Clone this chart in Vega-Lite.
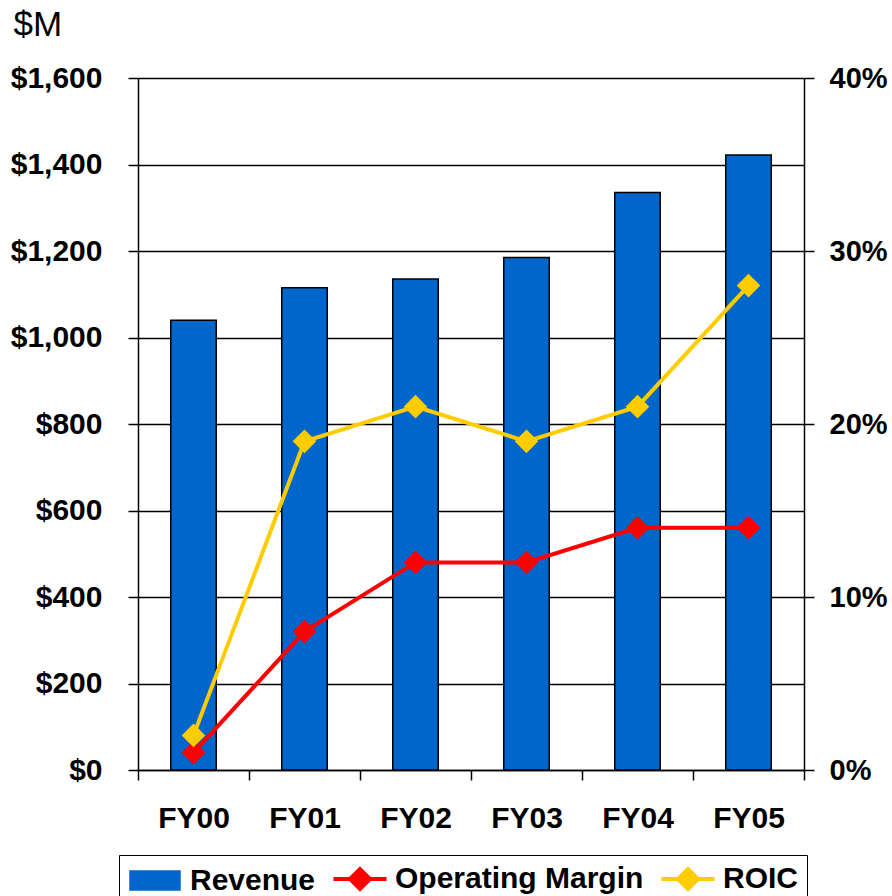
{
  "$schema": "https://vega.github.io/schema/vega-lite/v6.json",
  "autosize": "none",
  "width": 666,
  "height": 692,
  "padding": {"left": 138, "top": 78, "right": 88, "bottom": 126},
  "background": "white",
  "config": {
    "view": {"stroke": null},
    "font": "Liberation Sans",
    "axis": {
      "labelFont": "Liberation Sans",
      "labelFontWeight": "bold",
      "labelFontSize": 30,
      "labelColor": "black",
      "labelLimit": 0,
      "domainColor": "black",
      "domainWidth": 1.5,
      "tickColor": "black",
      "tickWidth": 1.5,
      "tickSize": 10
    }
  },
  "data": {
    "values": [
      {"year": "FY00", "revenue": 1040, "opm": 1, "roic": 2},
      {"year": "FY01", "revenue": 1115, "opm": 8, "roic": 19},
      {"year": "FY02", "revenue": 1135, "opm": 12, "roic": 21},
      {"year": "FY03", "revenue": 1185, "opm": 12, "roic": 19},
      {"year": "FY04", "revenue": 1335, "opm": 14, "roic": 21},
      {"year": "FY05", "revenue": 1422, "opm": 14, "roic": 28}
    ]
  },
  "encoding": {
    "x": {
      "field": "year",
      "type": "nominal",
      "sort": null,
      "scale": {"paddingInner": 0, "paddingOuter": 0},
      "axis": {
        "title": null,
        "labelAngle": 0,
        "tickBand": "extent",
        "labelPadding": 23,
        "grid": false
      }
    }
  },
  "layer": [
    {
      "mark": {"type": "bar", "width": {"band": 0.41}, "stroke": "black", "strokeWidth": 1.5},
      "encoding": {
        "y": {
          "field": "revenue",
          "type": "quantitative",
          "scale": {"domain": [0, 1600], "nice": false},
          "axis": {
            "orient": "left",
            "values": [0, 200, 400, 600, 800, 1000, 1200, 1400, 1600],
            "format": "$,.0f",
            "labelPadding": 26,
            "grid": true,
            "gridColor": "black",
            "gridWidth": 1.5,
            "title": "$M",
            "titleAngle": 0,
            "titleAlign": "left",
            "titleBaseline": "alphabetic",
            "titleX": -125,
            "titleY": -43,
            "titleFont": "Liberation Sans",
            "titleFontSize": 35,
            "titleFontWeight": "normal",
            "titleColor": "black"
          }
        },
        "color": {
          "datum": "Revenue",
          "type": "nominal",
          "scale": {
            "domain": ["Revenue", "Operating Margin", "ROIC"],
            "range": ["#0066CC", "#FF0000", "#FFCC00"]
          },
          "legend": {
            "title": null,
            "orient": "none",
            "legendX": -19,
            "legendY": 777,
            "direction": "horizontal",
            "strokeColor": "black",
            "fillColor": "white",
            "padding": 9,
            "labelFont": "Liberation Sans",
            "labelFontWeight": "bold",
            "labelFontSize": 30,
            "labelColor": "black",
            "labelLimit": 0,
            "symbolSize": 400,
            "symbolOffset": 12,
            "labelOffset": 20,
            "columnPadding": 9,
            "encoding": {
              "symbols": {
                "shape": {"value": {"expr": "datum.value === 'Revenue' ? 'M-2.5,-0.95H2.5V0.95H-2.5Z' : 'M-2.65,0H2.65M-1,0L0,-1L1,0L0,1Z'"}},
                "stroke": {"value": {"expr": "datum.value === 'Revenue' ? 'black' : (datum.value === 'ROIC' ? '#FFCC00' : '#FF0000')"}},
                "strokeWidth": {"value": {"expr": "datum.value === 'Revenue' ? 1.5 : 4"}},
                "opacity": {"value": 1}
              }
            }
          }
        }
      }
    },
    {
      "layer": [
        {
          "mark": {
            "type": "line",
            "strokeWidth": 4,
            "point": {"shape": "diamond", "size": 560, "filled": true, "opacity": 1}
          },
          "encoding": {
            "y": {
              "field": "opm",
              "type": "quantitative",
              "scale": {"domain": [0, 40], "nice": false},
              "axis": {
                "orient": "right",
                "values": [0, 10, 20, 30, 40],
                "labelExpr": "datum.value + '%'",
                "labelFontSize": 29,
                "labelPadding": 15,
                "grid": false,
                "title": null
              }
            },
            "color": {"datum": "Operating Margin", "type": "nominal", "legend": null}
          }
        },
        {
          "mark": {
            "type": "line",
            "strokeWidth": 4,
            "point": {"shape": "diamond", "size": 560, "filled": true, "opacity": 1}
          },
          "encoding": {
            "y": {"field": "roic", "type": "quantitative"},
            "color": {"datum": "ROIC", "type": "nominal", "legend": null}
          }
        }
      ]
    }
  ],
  "resolve": {"scale": {"y": "independent"}}
}
